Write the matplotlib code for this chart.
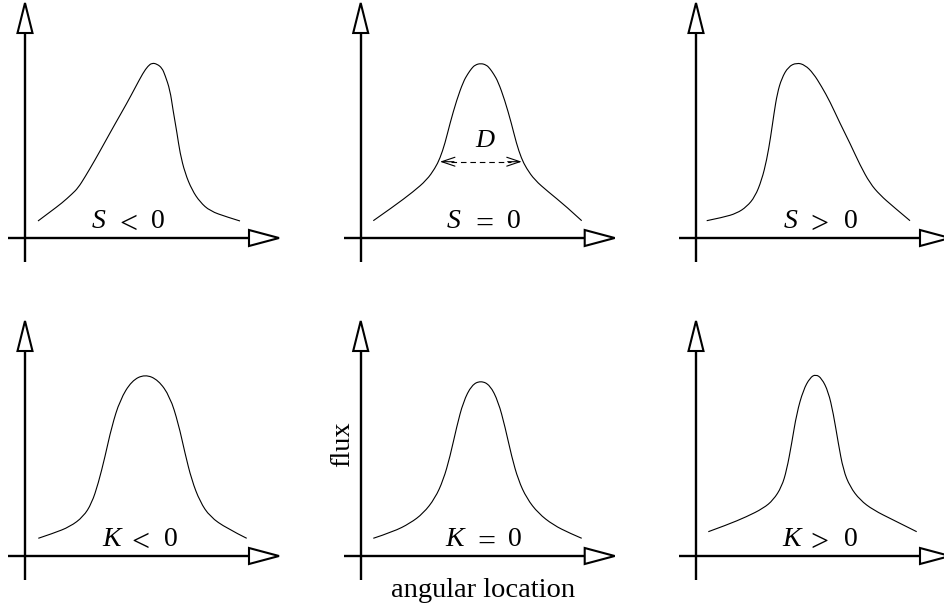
import matplotlib
matplotlib.use("Agg")
import matplotlib.pyplot as plt
from matplotlib.patches import Polygon, PathPatch
from matplotlib.path import Path

plt.rcParams['font.family'] = ['Liberation Serif', 'DejaVu Serif']

# ---- data (x: angular location, y: flux; panel units) ----
s_neg_x = [13, 25, 37, 47, 53, 60, 70, 80, 90, 102, 110, 118, 123, 127, 132, 137, 140, 145, 148, 152, 155, 160, 167, 175, 185, 202, 215]
s_neg_y = [17, 26, 35, 44, 50, 61, 78, 96, 114, 135, 150, 165, 172, 175, 174, 170, 163, 148, 128, 105, 85, 65, 48, 36, 27, 21, 17]

s_zero_x = [12.6, 32.6, 52.6, 66, 74.3, 79.3, 84.3, 89.3, 96, 102.6, 107, 111, 114.3, 120, 125.7, 129, 133, 137.4, 144, 150.7, 155.7, 160.7, 165.7, 174, 187.4, 205, 221]
s_zero_y = [17.3, 31.3, 46.3, 58, 69.7, 79.7, 94.7, 114.7, 138, 156.3, 164, 169.7, 173, 174.7, 173, 169.7, 164, 156.3, 138, 114.7, 94.7, 79.7, 69.7, 58, 46.3, 32, 17.3]

s_pos_x = [10.7, 27.3, 40.7, 50.7, 59, 65.7, 70.7, 74.7, 78, 81.3, 85.7, 92.3, 100.7, 109, 117.3, 125.7, 134, 144, 154, 164, 174, 184, 197.3, 214]
s_pos_y = [17.3, 20.7, 24.7, 31.3, 41.3, 58, 78, 101.3, 124.7, 144.7, 159.7, 171.3, 175.3, 173, 164.7, 151.3, 136.3, 114.7, 94.7, 73, 54.7, 43, 31.3, 17.3]

k_neg_x = [13.3, 28.3, 45, 58.3, 66.7, 73.3, 80, 86.7, 95, 106.7, 120, 133.3, 145, 153.3, 160, 166.7, 175, 185, 201.7, 221.7]
k_neg_y = [17.7, 22.7, 29.3, 39.3, 52.7, 72.7, 99.3, 129.3, 156, 175.3, 181.7, 176, 159.3, 132.7, 102.7, 76, 54.3, 39.3, 27.7, 17.7]

k_zero_x = [12.6, 32.6, 49.3, 62.6, 74.3, 82.6, 89.3, 96, 102.6, 111, 120, 129.3, 137.6, 144.3, 151, 157.6, 166, 177.6, 192.6, 209.3, 221]
k_zero_y = [17.7, 24.3, 32.7, 42.7, 57.7, 76, 99.3, 129.3, 154.3, 171, 175.3, 171, 154.3, 129.3, 99.3, 76, 57.7, 42.7, 31, 22.7, 17.7]

k_pos_x = [12.3, 30.7, 50.7, 67.3, 77.3, 85.7, 90.7, 95.7, 100.7, 107.3, 114, 119.7, 125.7, 132.3, 137.3, 142.3, 147.3, 154, 164, 177.3, 197.3, 220.7]
k_pos_y = [24.3, 31, 39.3, 47.7, 56, 69.3, 86, 112.7, 142.7, 166, 178.3, 181.7, 177.7, 164.3, 142.7, 112.7, 86, 69.3, 56, 46, 36, 24.3]

label_symbol = ['S', 'S', 'S', 'K', 'K', 'K']
label_relation = ['<', '=', '>', '<', '=', '>']
label_value = ['0', '0', '0', '0', '0', '0']

curves_x = [s_neg_x, s_zero_x, s_pos_x, k_neg_x, k_zero_x, k_pos_x]
curves_y = [s_neg_y, s_zero_y, s_pos_y, k_neg_y, k_zero_y, k_pos_y]

# width marker D on the S = 0 panel
d_left, d_right, d_level = 79.3, 161.0, 76.3

# layout (panel units)
sym_pos = [73.5, 92.9, 94.3, 87.0, 93.6, 95.5]
rel_pos = [103.7, 123.7, 123.8, 115.0, 125.7, 123.8]
val_pos = [133.2, 152.7, 155.0, 146.0, 153.8, 155.0]

W, H = 945, 609
fig = plt.figure(figsize=(W / 100, H / 100), dpi=100)

origins_x = [25, 360.7, 696]
origins_y = [238, 556]


def spline_patch(xs, ys):
    """Quadratic B-spline through the read points, drawn by matplotlib's Path."""
    verts = [(xs[0], ys[0])]
    codes = [Path.MOVETO]
    n = len(xs)
    for i in range(1, n - 1):
        if i < n - 2:
            end = ((xs[i] + xs[i + 1]) / 2, (ys[i] + ys[i + 1]) / 2)
        else:
            end = (xs[n - 1], ys[n - 1])
        verts += [(xs[i], ys[i]), end]
        codes += [Path.CURVE3, Path.CURVE3]
    return PathPatch(Path(verts, codes), fc='none', ec='black', lw=0.8,
                     clip_on=False, capstyle='butt')


axes = []
for r in range(2):
    for c in range(3):
        ox, oy = origins_x[c], origins_y[r]
        ax = fig.add_axes([(ox - 40) / W, (H - (oy + 50)) / H, 300 / W, 300 / H])
        ax.set_xlim(-40, 260)
        ax.set_ylim(-50, 250)
        ax.axis('off')
        axes.append(ax)

for i, ax in enumerate(axes):
    # axes with open arrowheads
    ax.plot([-17, 224], [0, 0], color='black', lw=1.7, clip_on=False, solid_capstyle='butt')
    ax.plot([0, 0], [-24, 205], color='black', lw=1.7, clip_on=False, solid_capstyle='butt')
    ax.add_patch(Polygon([(224, -8), (254, 0), (224, 8)], closed=True, fc='white',
                         ec='black', lw=1.5, clip_on=False, joinstyle='miter'))
    ax.add_patch(Polygon([(-7.5, 205), (0, 235), (7.5, 205)], closed=True, fc='white',
                         ec='black', lw=1.5, clip_on=False, joinstyle='miter'))
    # profile
    ax.add_patch(spline_patch(curves_x[i], curves_y[i]))
    ax.text(sym_pos[i], 10, label_symbol[i], ha='center', va='baseline',
            fontsize=20, style='italic')
    ax.text(rel_pos[i], 5, label_relation[i], ha='center', va='baseline', fontsize=23)
    ax.text(val_pos[i], 10, label_value[i], ha='center', va='baseline', fontsize=20)

# D annotation
ax = axes[1]
ax.plot([d_left + 11, d_right - 11], [d_level, d_level], color='black', lw=0.8,
        linestyle=(0, (5, 3.5)))
head = '->,head_length=0.95,head_width=0.32'
ax.annotate('', xy=(d_left, d_level), xytext=(d_left + 14, d_level),
            arrowprops=dict(arrowstyle=head, lw=0.8, color='black', mutation_scale=10,
                            shrinkA=0, shrinkB=0))
ax.annotate('', xy=(d_right, d_level), xytext=(d_right - 14, d_level),
            arrowprops=dict(arrowstyle=head, lw=0.8, color='black', mutation_scale=10,
                            shrinkA=0, shrinkB=0))
ax.text(124.3, 91.3, 'D', ha='center', va='baseline', fontsize=19, style='italic')

# axis titles on the K = 0 panel
ax = axes[4]
ax.text(122.3, -41, 'angular location', ha='center', va='baseline', fontsize=20.5)
ax.text(-11.4, 112, 'flux', rotation=90, rotation_mode='anchor', ha='center',
        va='baseline', fontsize=20.5)

fig.savefig('out.png', dpi=100)
